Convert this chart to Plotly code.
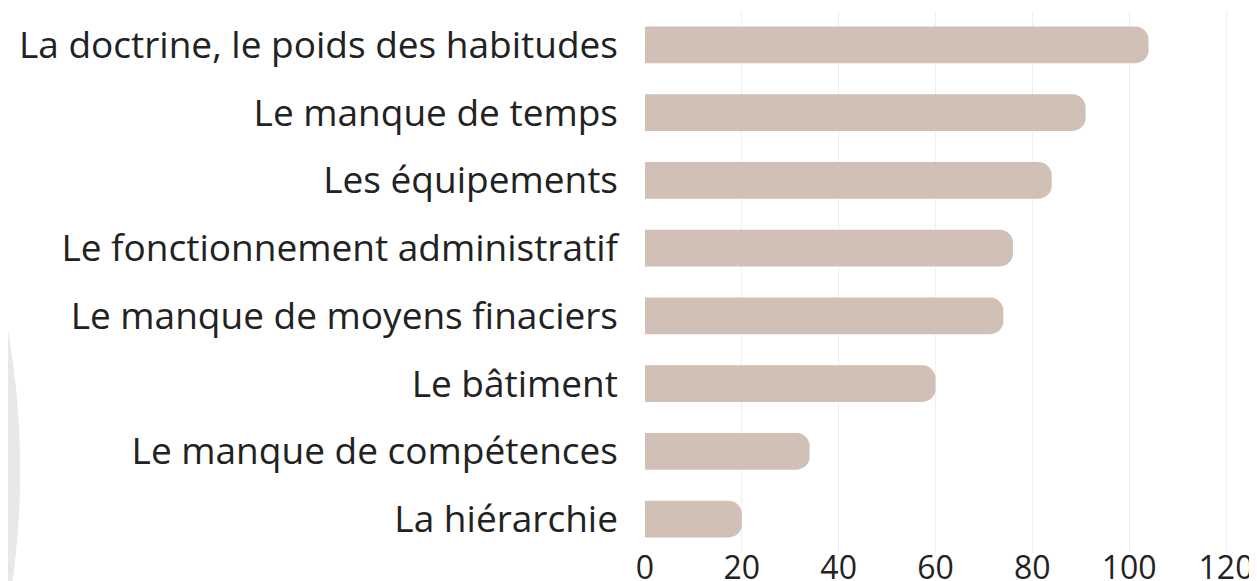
import plotly.graph_objects as go

categories = [
    "La doctrine, le poids des habitudes",
    "Le manque de temps",
    "Les équipements",
    "Le fonctionnement administratif",
    "Le manque de moyens finaciers",
    "Le bâtiment",
    "Le manque de compétences",
    "La hiérarchie",
]
values = [104, 91, 84, 76, 74, 60, 34, 20]
x_ticks = [0, 20, 40, 60, 80, 100, 120]

BAR = "#d0c0b5"
INK = "#222222"
FONT = "Open Sans"

fig = go.Figure(go.Bar(
    x=values, y=categories, orientation="h",
    marker=dict(color=BAR, cornerradius=13, line=dict(width=0)),
    hovertemplate="%{y}: %{x}<extra></extra>"))

# decorative grey disc peeking in from the left edge (paper = plot area)
fig.add_shape(type="circle", xref="paper", yref="paper", layer="below",
              x0=-3.675, x1=-1.021, y0=-1.345, y1=1.651,
              fillcolor="#e8e8e8", line=dict(width=0))

fig.update_xaxes(range=[0, 126.4], tickvals=x_ticks, showgrid=True, gridcolor="#efefef",
                 gridwidth=1, zeroline=False, showline=False, ticks="",
                 automargin=False, ticklabelstandoff=-7, ticklabeloverflow="allow",
                 tickfont=dict(family=FONT, size=32, color=INK))
fig.update_yaxes(autorange="reversed", showgrid=False, zeroline=False, showline=False,
                 ticks="", ticklabelstandoff=26, automargin=False,
                 tickfont=dict(family=FONT, size=37, color=INK))
fig.update_layout(width=1257, height=581, bargap=0.46, showlegend=False,
                  paper_bgcolor="white", plot_bgcolor="rgba(0,0,0,0)",
                  margin=dict(l=637, r=8, t=3, b=36))

fig.write_html("out.html")
